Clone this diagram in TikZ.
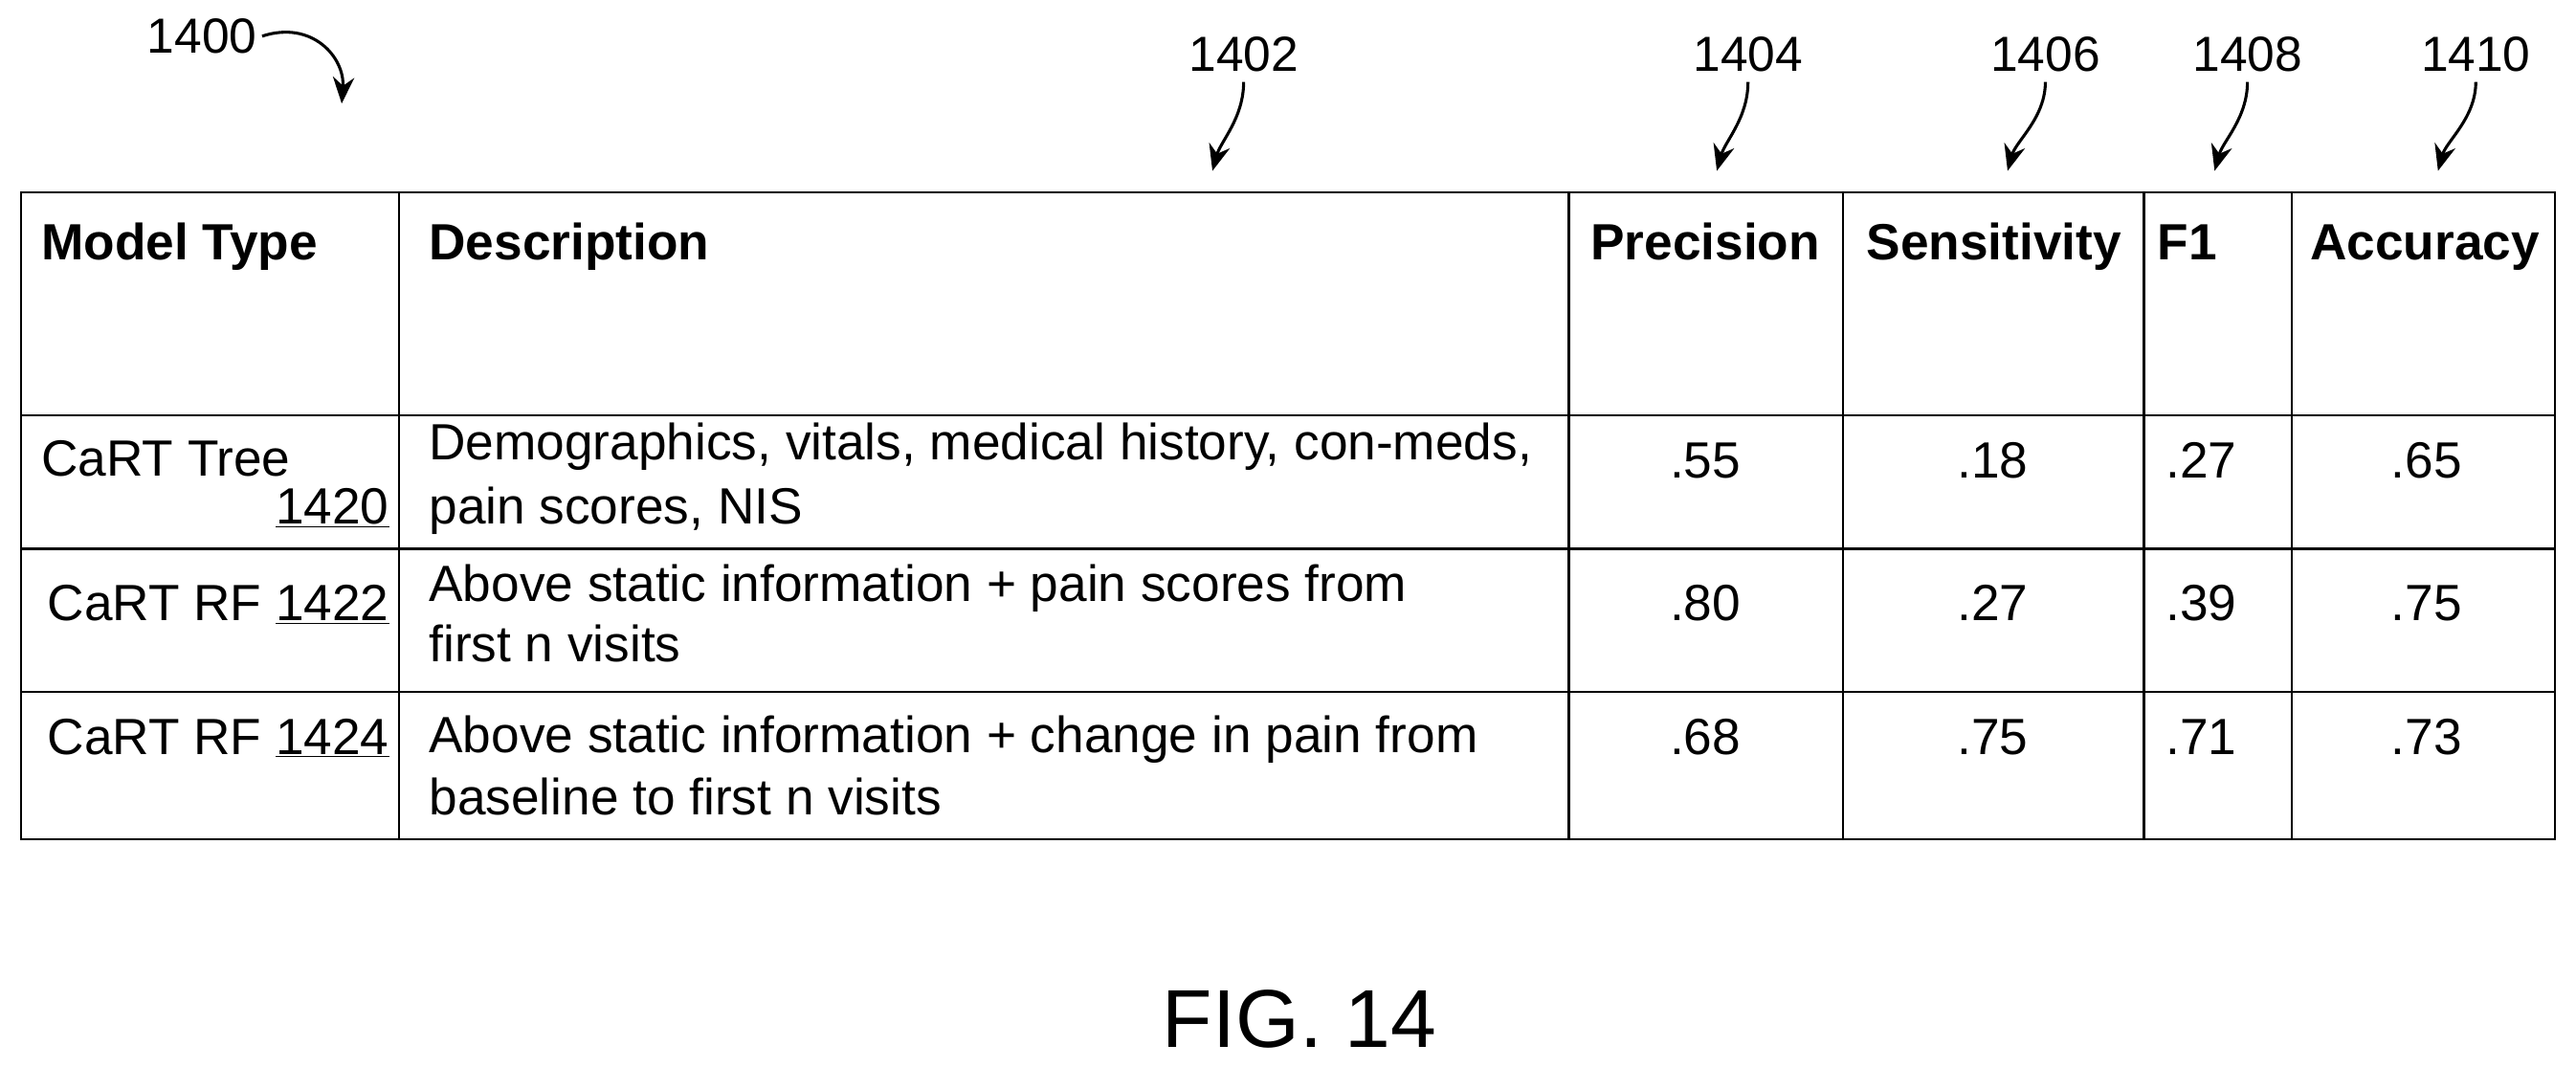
\documentclass[tikz,border=0pt]{standalone}
\usepackage{fontspec}
\setmainfont{Liberation Sans}
\usetikzlibrary{arrows.meta}
\begin{document}
\begin{tikzpicture}[x=1pt,y=-1pt,
  tx/.style={font=\fontsize{31}{36}\selectfont,inner sep=0pt},
  hd/.style={font=\fontsize{31}{36}\selectfont\bfseries,inner sep=0pt,anchor=base west},
  lbl/.style={font=\fontsize{30}{36}\selectfont,inner sep=0pt},
  ref/.style={line width=1.8pt,-{Stealth[length=16pt,width=13pt]}},
  grid/.style={line width=1.3pt}]
\useasboundingbox (0,0) rectangle (1568,649);
\draw[grid] (13,117) rectangle (1555,511);
\foreach \x in {243,955,1122,1305,1395} \draw[grid] (\x,117) -- (\x,511);
\foreach \y in {253,334,421} \draw[grid] (13,\y) -- (1555,\y);
% header
\node[hd] (h1) at (25,158) {Model Type};
\node[hd] (h2) at (261,158) {Description};
\node[hd] (h3) at (968,158) {Precision};
\node[hd] (h4) at (1136,158) {Sensitivity};
\node[hd] (h5) at (1313,158) {F1};
\node[hd] (h6) at (1406,158) {Accuracy};
% rows
\node[tx,anchor=base west] (m1) at (25,290) {CaRT Tree};
\node[tx,anchor=base east] (n1) at (237,319) {\underline{1420}};
\node[tx,anchor=base west] (d1a) at (261,280) {Demographics, vitals, medical history, con-meds,};
\node[tx,anchor=base west] (d1b) at (261,319) {pain scores, NIS};
\node[tx,anchor=base east] (m2) at (237,378) {CaRT RF \underline{1422}};
\node[tx,anchor=base west] (d2a) at (261,366) {Above static information + pain scores from};
\node[tx,anchor=base west] (d2b) at (261,403) {first n visits};
\node[tx,anchor=base east] (m3) at (237,459) {CaRT RF \underline{1424}};
\node[tx,anchor=base west] (d3a) at (261,458) {Above static information + change in pain from};
\node[tx,anchor=base west] (d3b) at (261,496) {baseline to first n visits};
\foreach \yy/\a/\b/\c/\d in {291/.55/.18/.27/.65, 378/.80/.27/.39/.75, 459/.68/.75/.71/.73}{
  \node[tx,anchor=base] at (1038,\yy) {\a};
  \node[tx,anchor=base] at (1213,\yy) {\b};
  \node[tx,anchor=base] at (1340,\yy) {\c};
  \node[tx,anchor=base] at (1477,\yy) {\d};
}
% reference labels
\node[lbl] (r0) at (123,22) {1400};
\coordinate (r0e) at (208,63);
\draw[ref] ([xshift=3pt]r0.east) .. controls (190,12) and (210,35) .. (r0e);
\foreach \nm/\ax in {r2/738, r4/1045, r6/1222, r8/1348, r10/1484}{
  \coordinate (\nm e) at (\ax,104);
}
\node[lbl] (r2) at (757,33) {1402};
\node[lbl] (r4) at (1064,33) {1404};
\node[lbl] (r6) at (1245,33) {1406};
\node[lbl] (r8) at (1368,33) {1408};
\node[lbl] (r10) at (1507,33) {1410};
\foreach \nm in {r2,r4,r6,r8,r10}{
  \draw[ref] ([yshift=-6pt]\nm.south) .. controls ++(0,22) and ++(5,-18) .. (\nm e);
}
\node[font=\fontsize{50}{56}\selectfont,inner sep=0pt] (fig) at (791,620) {FIG. 14};
\end{tikzpicture}
\end{document}
